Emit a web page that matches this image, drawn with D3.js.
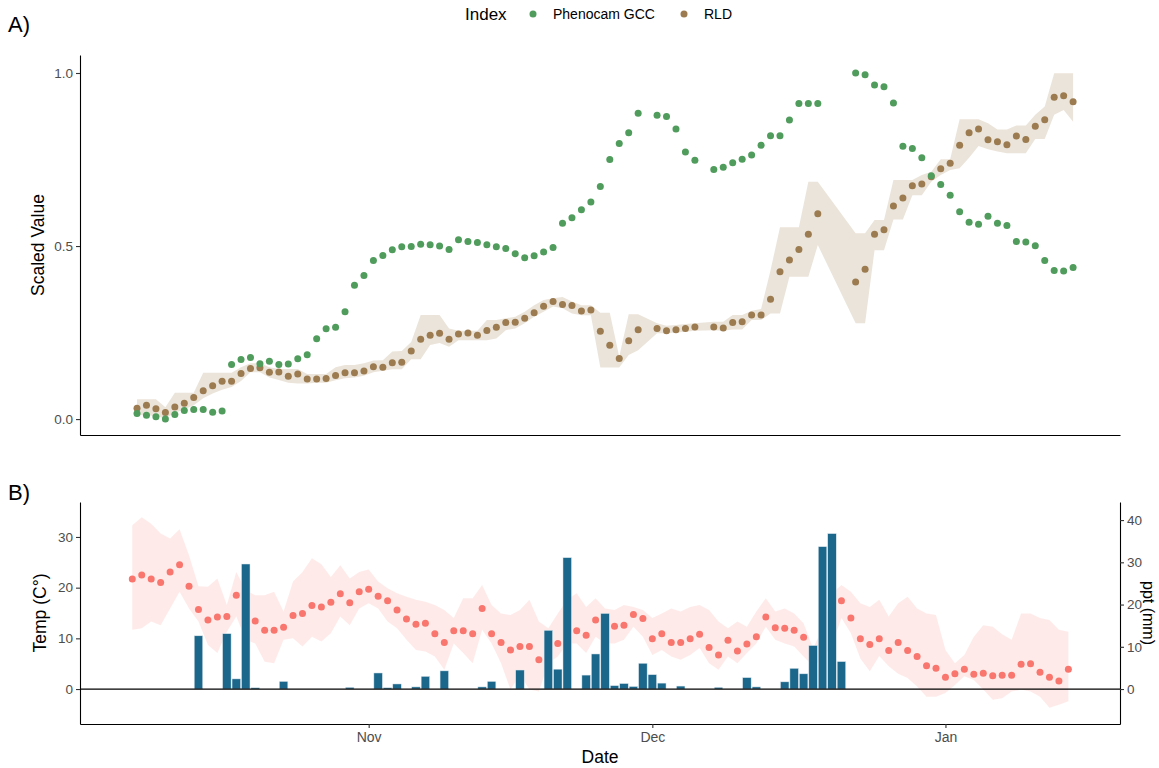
<!DOCTYPE html>
<html>
<head>
<meta charset="utf-8">
<script src="https://cdn.jsdelivr.net/npm/d3@7"></script>
<style>
  body { margin: 0; background: #ffffff; }
  svg text { font-family: "Liberation Sans", Arial, Helvetica, sans-serif; }
</style>
</head>
<body>
<svg id="chart" width="1159" height="768"></svg>
<script>
// ---- data: one value per day, 7 Oct 2020 – 14 Jan 2021 (null = no observation) ----
const firstDay = "2020-10-07";
const nDays = 100;

// Panel A: scaled indices
const gcc = [
  .016,.011,.007,.000,.013,.025,.028,.028,.020,.023,
  .158,.172,.178,.160,.167,.158,.159,.174,.186,.232,
  .261,.265,.310,.387,.415,.458,.473,.489,.498,.499,
  .505,.504,.500,.490,.518,.513,.510,.504,.498,.493,
  .478,.466,.472,.483,.496,.566,.582,.605,.627,.672,
  .750,.796,.827,.884,null,.878,.874,.838,.772,.748,
  null,.721,.728,.741,.751,.763,.791,.819,.819,.864,
  .912,.912,.912,null,null,null,1.000,.995,.965,.960,
  .913,.788,.782,.755,.703,.678,.647,.599,.569,.563,
  .586,.566,.559,.513,.512,.501,.458,.429,.428,.438
];
const rld = [
  .031,.040,.030,.019,.035,.046,.062,.082,.096,.109,
  .109,.132,.146,.148,.135,.136,.124,.130,.116,.116,
  .117,.126,.134,.134,.139,.151,.150,.163,.164,.197,
  .231,.242,.248,.231,.246,.249,.242,.256,.265,.279,
  .280,.291,.307,.326,.340,.331,.328,.312,.315,.254,
  .213,.175,.226,.258,null,.262,.255,.258,.262,.266,
  null,.266,.263,.279,.281,.301,.301,.346,.426,.460,
  .490,.534,.593,null,null,null,.396,.433,.534,.547,
  .616,.639,.674,.679,.700,.723,.739,.791,.827,.838,
  .807,.801,.793,.818,.808,.846,.865,.930,.934,.917
];
const rldLow = [
  .012,.012,.008,.002,.018,.028,.040,.060,.074,.085,
  .093,.110,.135,.135,.120,.113,.105,.103,.103,.105,
  .105,.112,.118,.120,.125,.135,.140,.144,.144,.173,
  .173,.214,.220,.209,.228,.228,.228,.228,.233,.257,
  .262,.277,.296,.310,.325,.320,.305,.300,.300,.149,
  .149,.149,.185,.199,null,.248,.248,.250,.252,.255,
  null,.257,.255,.259,.259,.286,.286,.305,.305,.411,
  .411,.411,.503,null,null,null,.277,.277,.488,.488,
  .577,.577,.647,.647,.686,.705,.720,.725,.755,.789,
  .780,.773,.768,.768,.768,.809,.809,.879,.893,.859
];
const rldHigh = [
  .057,.057,.057,.034,.076,.076,.076,.134,.134,.134,
  .134,.150,.161,.161,.150,.145,.145,.145,.130,.130,
  .130,.150,.156,.156,.161,.169,.170,.195,.197,.223,
  .301,.301,.301,.262,.255,.255,.255,.286,.286,.291,
  .296,.310,.329,.344,.349,.353,.340,.329,.329,.307,
  .307,.180,.303,.303,null,.277,.270,.272,.275,.277,
  null,.281,.281,.301,.301,.313,.318,.430,.554,.554,
  .554,.686,.686,null,null,null,.537,.537,.575,.575,
  .691,.691,.691,.705,.715,.751,.751,.866,.866,.866,
  .855,.837,.837,.848,.848,.879,.903,.999,.999,.999
];

// Panel B: daily mean temperature (°C) with min/max band, and precipitation (mm)
const tempMean = [
  21.7,22.5,21.7,21.0,23.1,24.5,20.3,15.7,13.6,14.2,
  14.3,18.5,null,13.4,11.6,11.6,12.2,14.5,14.9,16.5,
  16.2,17.1,18.8,17.0,19.2,19.7,18.3,17.4,15.6,13.8,
  12.8,13.0,10.9,9.2,11.5,11.5,10.9,15.9,10.9,9.2,
  7.7,8.4,8.4,5.8,null,9.0,null,11.5,10.6,13.6,
  null,12.4,12.6,14.7,13.9,9.9,10.9,9.2,9.2,9.9,
  10.8,8.2,6.7,9.6,7.5,8.9,10.3,14.2,12.1,12.0,
  11.6,10.2,null,null,null,17.4,14.0,9.9,8.8,9.9,
  7.6,9.2,7.6,6.4,4.6,4.1,2.3,3.0,3.9,2.9,
  3.1,2.6,2.7,2.7,4.9,5.0,3.3,2.3,1.6,3.9
];
const tempMin = [
  11.7,12.0,13.3,12.6,15.9,19.2,15.9,13.3,8.7,7.1,
  11.3,14.3,9.7,9.0,5.4,5.1,9.7,10.0,8.4,10.3,
  9.4,11.0,14.3,12.6,15.9,16.9,15.9,13.3,12.0,9.7,
  7.7,7.4,6.4,3.8,9.0,7.1,5.1,11.7,9.0,5.1,
  -0.1,2.8,-0.1,-0.5,5.1,6.4,9.0,9.0,7.1,10.3,
  9.0,9.0,9.7,12.3,10.3,6.7,7.7,6.4,5.8,6.7,
  8.1,5.1,3.8,6.4,5.1,7.1,9.0,12.3,9.7,9.0,
  8.4,6.4,4.5,6.0,8.7,14.0,11.0,6.0,3.5,6.5,
  4.5,3.0,2.2,0.5,-1.5,-1.5,-0.8,0.8,2.5,1.8,
  -0.1,-2.1,-1.8,-0.5,-0.1,-0.5,-1.5,-3.7,-3.1,-2.4
];
const tempMax = [
  32.3,33.9,32.6,30.7,29.7,31.5,26.4,20.3,20.2,21.8,
  16.6,23.1,19.5,18.5,18.5,19.2,15.3,21.2,23.1,25.8,
  24.6,22.1,24.4,21.8,23.1,23.6,21.2,19.9,18.9,18.2,
  17.6,17.2,16.6,15.6,14.0,17.9,17.9,20.5,16.6,14.9,
  14.6,15.6,17.6,13.3,12.0,14.9,17.6,18.9,16.2,17.9,
  15.9,15.6,16.6,16.2,15.6,14.0,14.9,15.9,15.3,16.2,
  16.6,15.6,13.3,12.0,13.3,12.3,15.3,17.9,15.3,15.9,
  14.9,13.0,8.0,12.0,18.9,20.5,19.2,16.9,16.2,17.6,
  14.3,16.9,18.2,15.9,14.9,14.6,7.7,5.1,6.7,10.3,
  12.6,12.3,10.8,9.7,14.9,14.9,14.0,13.6,11.7,11.3
];
const ppt = [
  0,0,0,0,0,0,0,12.6,0,0,
  13.1,2.4,29.6,0.3,0,0,1.8,0,0,0,
  0,0,0,0.4,0,0,3.8,0.3,1.2,0,
  0.5,3.0,0,4.3,0,0,0,0.5,1.8,0,
  0,4.5,0,0,13.9,4.7,31.1,0,3.3,8.3,
  17.9,0.8,1.3,0.6,6.1,3.4,1.4,0,0.7,0,
  0,0,0.4,0,0,2.7,0.5,0,0,1.7,
  4.9,3.6,10.3,33.7,36.8,6.5,0,0,0,0,
  0,0,0,0,0,0,0,0,0,0,
  0,0,0,0,0,0,0,0,0,0
];

const seriesNames = ["Phenocam GCC", "RLD"];
const monthTicks = ["2020-11-01", "2020-12-01", "2021-01-01"];
const tempTicks = [0, 10, 20, 30];
const pptTicks = [0, 10, 20, 30, 40];
const indexTicks = [0, 0.5, 1];
const pptPerDegree = 1.2;   // secondary axis: mm = °C-scale × 1.2

// ---- setup ----
const DAY = 864e5;
const t0 = Date.parse(firstDay + "T00:00:00Z");
const days = d3.range(nDays).map(i => new Date(t0 + i * DAY));
const halfDay = DAY / 2;        // index series are stamped at mid-day

const colGCC = "#4f9c5c", colRLD = "#9b7b4f", colRLDband = "#ebe4da";
const colTemp = "#f8766d", colBar = "#1b678b";
const tickGrey = "#4d4d4d";
const dotR = 3.5;

const svg = d3.select("#chart");
const left = 80, right = 1120;
const A = { top: 55, bottom: 435 };
const B = { top: 502, bottom: 724 };

const x = d3.scaleUtc()
  .domain([new Date(t0 - 5.53 * DAY), new Date(t0 + 104.46 * DAY)])
  .range([left, right]);

const yA = d3.scaleLinear().domain([-0.046, 1.052]).range([A.bottom, A.top]);
const yT = d3.scaleLinear().domain([-6.9, 36.9]).range([B.bottom, B.top]);
const yP = d3.scaleLinear().domain([-6.9 * pptPerDegree, 36.9 * pptPerDegree]).range([B.bottom, B.top]);

function styleAxis(g, fs) {
  g.select(".domain").attr("stroke", "#000").attr("stroke-width", 1.1);
  g.selectAll(".tick line").attr("stroke", "#333").attr("stroke-width", 1.1);
  g.selectAll(".tick text").attr("fill", tickGrey).attr("font-size", fs || 13.5);
}

// ---- panel A ----
const gA = svg.append("g");
const rldRows = days.map((d, i) => ({ d: new Date(+d + halfDay), v: rld[i], lo: rldLow[i], hi: rldHigh[i] }))
  .filter(r => r.v !== null);
const gccRows = days.map((d, i) => ({ d: new Date(+d + halfDay), v: gcc[i] })).filter(r => r.v !== null);

gA.append("path")
  .datum(rldRows)
  .attr("fill", colRLDband)
  .attr("d", d3.area().x(r => x(r.d)).y0(r => yA(r.lo)).y1(r => yA(r.hi)));

gA.selectAll("circle.rld").data(rldRows).join("circle")
  .attr("class", "rld")
  .attr("cx", r => x(r.d)).attr("cy", r => yA(r.v)).attr("r", dotR)
  .attr("fill", colRLD);

gA.selectAll("circle.gcc").data(gccRows).join("circle")
  .attr("class", "gcc")
  .attr("cx", r => x(r.d)).attr("cy", r => yA(r.v)).attr("r", dotR)
  .attr("fill", colGCC);

gA.append("g").attr("transform", `translate(${left},0)`)
  .call(d3.axisLeft(yA).tickValues(indexTicks).tickFormat(d3.format(".1f")).tickSize(4).tickPadding(3).tickSizeOuter(0))
  .call(g => styleAxis(g));
gA.append("g").attr("transform", `translate(0,${A.bottom})`)
  .call(d3.axisBottom(x).tickValues([]).tickSizeOuter(0))
  .call(g => styleAxis(g));

svg.append("text").attr("transform", `translate(44,${(A.top + A.bottom) / 2}) rotate(-90)`)
  .attr("text-anchor", "middle").attr("font-size", 17.5).attr("fill", "#000").text("Scaled Value");

// ---- panel B ----
const gB = svg.append("g");
const tRows = days.map((d, i) => ({ d, m: tempMean[i], lo: tempMin[i], hi: tempMax[i] }));
const pRows = days.map((d, i) => ({ d, p: ppt[i] })).filter(r => r.p > 0);

gB.append("path")
  .datum(tRows)
  .attr("fill", colTemp).attr("fill-opacity", 0.15)
  .attr("d", d3.area().x(r => x(r.d)).y0(r => yT(r.lo)).y1(r => yT(r.hi)));

gB.selectAll("circle.temp").data(tRows.filter(r => r.m !== null)).join("circle")
  .attr("class", "temp")
  .attr("cx", r => x(r.d)).attr("cy", r => yT(r.m)).attr("r", dotR)
  .attr("fill", colTemp);

gB.selectAll("rect.ppt").data(pRows).join("rect")
  .attr("class", "ppt")
  .attr("x", r => x(new Date(+r.d - 0.45 * DAY)))
  .attr("width", r => x(new Date(+r.d + 0.45 * DAY)) - x(new Date(+r.d - 0.45 * DAY)))
  .attr("y", r => yP(r.p))
  .attr("height", r => yP(0) - yP(r.p))
  .attr("fill", colBar).attr("stroke", "#dfe8ee").attr("stroke-width", 0.5);

gB.append("line")
  .attr("x1", left).attr("x2", right)
  .attr("y1", yT(0)).attr("y2", yT(0))
  .attr("stroke", "#000").attr("stroke-width", 1.2);

gB.append("g").attr("transform", `translate(${left},0)`)
  .call(d3.axisLeft(yT).tickValues(tempTicks).tickSize(4).tickPadding(3).tickSizeOuter(0))
  .call(g => styleAxis(g));
gB.append("g").attr("transform", `translate(${right},0)`)
  .call(d3.axisRight(yP).tickValues(pptTicks).tickSize(4).tickPadding(3).tickSizeOuter(0))
  .call(g => styleAxis(g));
gB.append("g").attr("transform", `translate(0,${B.bottom})`)
  .call(d3.axisBottom(x).tickValues(monthTicks.map(s => new Date(s + "T00:00:00Z")))
    .tickFormat(d3.utcFormat("%b")).tickSize(4).tickPadding(4).tickSizeOuter(0))
  .call(g => styleAxis(g, 14));

svg.append("text").attr("transform", `translate(46,${(B.top + B.bottom) / 2}) rotate(-90)`)
  .attr("text-anchor", "middle").attr("font-size", 17.5).attr("fill", "#000").text("Temp (C°)");
svg.append("text").attr("transform", `translate(1143,${(B.top + B.bottom) / 2}) rotate(90)`)
  .attr("text-anchor", "middle").attr("font-size", 16).attr("fill", "#000").text("ppt (mm)");
svg.append("text").attr("x", (left + right) / 2).attr("y", 763)
  .attr("text-anchor", "middle").attr("font-size", 17.5).attr("fill", "#000").text("Date");

// ---- panel tags ----
svg.append("text").attr("x", 8).attr("y", 32).attr("font-size", 22).text("A)");
svg.append("text").attr("x", 8).attr("y", 500).attr("font-size", 22).text("B)");

// ---- legend ----
const leg = svg.append("g");
leg.append("text").attr("x", 465).attr("y", 20).attr("font-size", 17).attr("fill", "#000").text("Index");
const legCols = [colGCC, colRLD];
const legX = [533, 684];
seriesNames.forEach((name, k) => {
  leg.append("circle").attr("cx", legX[k]).attr("cy", 14).attr("r", dotR).attr("fill", legCols[k]);
  leg.append("text").attr("x", legX[k] + 20).attr("y", 19).attr("font-size", 14).attr("fill", "#000").text(name);
});
</script>
</body>
</html>
